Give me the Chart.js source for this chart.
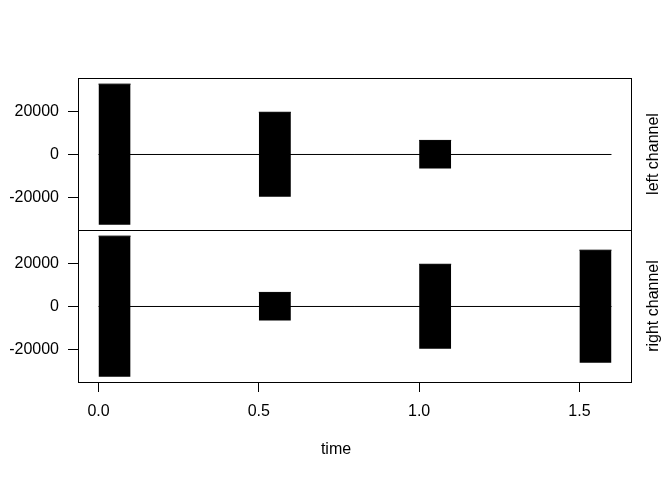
<!DOCTYPE html>
<html>
<head>
<meta charset="utf-8">
<script src="https://cdn.jsdelivr.net/npm/chart.js@4"></script>
<style>
body { margin: 0; background: #fff; }
#wrap { position: relative; width: 672px; height: 480px; }
#wrap canvas { position: absolute; left: 0; top: 0; }
</style>
</head>
<body>
<div id="wrap">
<canvas id="leftCanvas" width="672" height="480"></canvas>
<canvas id="rightCanvas" width="672" height="480"></canvas>
</div>
<script>
// length of the sound in seconds
var duration = 1.6;
// tone bursts of the left channel (start, end, peak amplitude)
var leftStart = [0.0, 0.5, 1.0];
var leftEnd = [0.1, 0.6, 1.1];
var leftAmp = [32767, 19660, 6554];
// tone bursts of the right channel
var rightStart = [0.0, 0.5, 1.0, 1.5];
var rightEnd = [0.1, 0.6, 1.1, 1.6];
var rightAmp = [32767, 6554, 19660, 26214];
// axis ticks
var xTicks = [0, 0.5, 1.0, 1.5];
var xTickLabels = ['0.0', '0.5', '1.0', '1.5'];
var yTicks = [-20000, 0, 20000];
var yTickLabels = ['-20000', '0', '20000'];
var xMin = -0.064, xMax = 1.664;
var yMin = -35156, yMax = 35621;

Chart.defaults.font.family = '"Liberation Sans", Arial, sans-serif';
Chart.defaults.font.size = 16;
Chart.defaults.color = '#000';

// box round the panel and the channel name on its right side
var framePlugin = {
    id: 'frame',
    afterDraw: function (chart, args, opts) {
        var a = chart.chartArea;
        var ctx = chart.ctx;
        ctx.save();
        ctx.strokeStyle = '#000';
        ctx.lineWidth = 1;
        ctx.strokeRect(a.left + 0.5, a.top + 0.5, a.right - a.left - 1, a.bottom - a.top);
        ctx.translate(a.right + 26, (a.top + a.bottom) / 2);
        ctx.rotate(-Math.PI / 2);
        ctx.font = '16px "Liberation Sans", Arial, sans-serif';
        ctx.fillStyle = '#000';
        ctx.textAlign = 'center';
        ctx.textBaseline = 'alphabetic';
        ctx.fillText(opts.text, 0, 0);
        ctx.restore();
    }
};

function makeChart(id, starts, ends, amps, name, isBottom) {
    // zero line under the bursts
    var sets = [{
        data: [{ x: 0, y: 0 }, { x: duration, y: 0 }],
        borderColor: '#000',
        borderWidth: 1,
        pointRadius: 0,
        fill: false
    }];
    // each burst is filled from +amp down to -amp
    for (var i = 0; i < starts.length; i++) {
        sets.push({
            data: [{ x: starts[i], y: amps[i] }, { x: ends[i], y: amps[i] }],
            borderColor: '#000',
            backgroundColor: '#000',
            borderWidth: 1,
            pointRadius: 0,
            fill: { value: -amps[i] }
        });
    }

    var ctx = document.getElementById(id).getContext('2d');
    return new Chart(ctx, {
        type: 'line',
        data: { datasets: sets },
        plugins: [framePlugin],
        options: {
            responsive: false,
            animation: false,
            events: [],
            layout: {
                padding: isBottom ? { top: 230, right: 0, bottom: 0, left: 0 }
                                  : { top: 78, right: 0, bottom: 250, left: 0 }
            },
            plugins: {
                legend: { display: false },
                tooltip: { enabled: false },
                title: {
                    display: isBottom,
                    position: 'bottom',
                    text: 'time',
                    color: '#000',
                    font: { size: 16, weight: 'normal' },
                    padding: { top: 5, bottom: 21 }
                },
                frame: { text: name }
            },
            scales: {
                x: {
                    type: 'linear',
                    min: xMin,
                    max: xMax,
                    display: isBottom,
                    afterBuildTicks: function (s) {
                        s.ticks = xTicks.map(function (v) { return { value: v }; });
                    },
                    afterFit: function (s) { s.height = isBottom ? 52.8 : 0; },
                    grid: { drawOnChartArea: false, drawTicks: true, tickLength: 10, color: '#000' },
                    border: { display: false },
                    ticks: {
                        padding: 10,
                        maxRotation: 0,
                        autoSkip: false,
                        callback: function (v) { return xTickLabels[xTicks.indexOf(v)]; }
                    }
                },
                y: {
                    type: 'linear',
                    min: yMin,
                    max: yMax,
                    afterBuildTicks: function (s) {
                        s.ticks = yTicks.map(function (v) { return { value: v }; });
                    },
                    afterFit: function (s) { s.width = 78; },
                    grid: { drawOnChartArea: false, drawTicks: true, tickLength: 10, color: '#000' },
                    border: { display: false },
                    ticks: {
                        padding: 9,
                        autoSkip: false,
                        callback: function (v) { return yTickLabels[yTicks.indexOf(v)]; }
                    }
                },
                // empty strip on the right that holds the channel name
                side: {
                    type: 'linear',
                    position: 'right',
                    display: false,
                    afterFit: function (s) { s.width = 40; }
                }
            }
        }
    });
}

makeChart('leftCanvas', leftStart, leftEnd, leftAmp, 'left channel', false);
makeChart('rightCanvas', rightStart, rightEnd, rightAmp, 'right channel', true);
</script>
</body>
</html>
